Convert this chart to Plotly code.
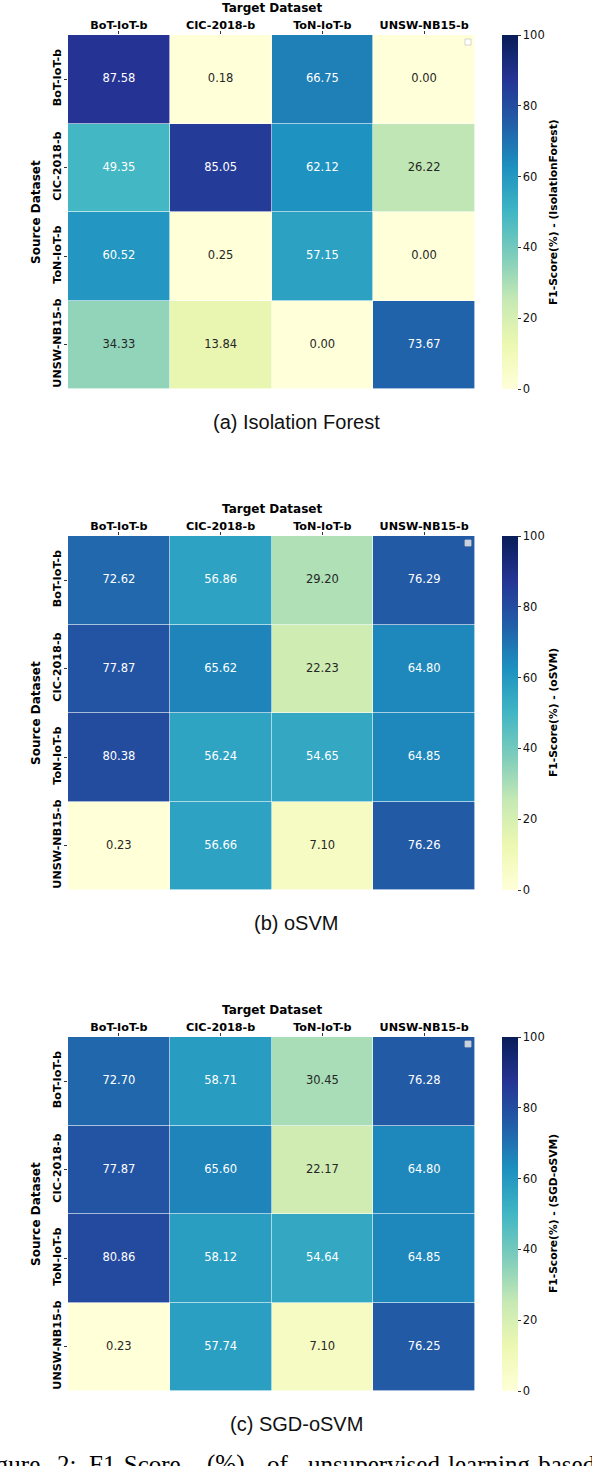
import plotly.graph_objects as go
import plotly.colors as pc

W, H = 592, 1466

targets = ["BoT-IoT-b", "CIC-2018-b", "ToN-IoT-b", "UNSW-NB15-b"]
sources = ["BoT-IoT-b", "CIC-2018-b", "ToN-IoT-b", "UNSW-NB15-b"]

if_scores = [
    [87.58, 0.18, 66.75, 0.00],
    [49.35, 85.05, 62.12, 26.22],
    [60.52, 0.25, 57.15, 0.00],
    [34.33, 13.84, 0.00, 73.67],
]
osvm_scores = [
    [72.62, 56.86, 29.20, 76.29],
    [77.87, 65.62, 22.23, 64.80],
    [80.38, 56.24, 54.65, 64.85],
    [0.23, 56.66, 7.10, 76.26],
]
sgd_scores = [
    [72.70, 58.71, 30.45, 76.28],
    [77.87, 65.60, 22.17, 64.80],
    [80.86, 58.12, 54.64, 64.85],
    [0.23, 57.74, 7.10, 76.25],
]

panels = [
    ("(a) Isolation Forest", "F1-Score(%) - (IsolationForest)", if_scores),
    ("(b) oSVM", "F1-Score(%) - (oSVM)", osvm_scores),
    ("(c) SGD-oSVM", "F1-Score(%) - (SGD-oSVM)", sgd_scores),
]

cbar_ticks = [0, 20, 40, 60, 80, 100]

# figure caption words (cut off at bottom of page in the reference)
caption_words = ["Figure", "2:", "F1-Score", "(%)", "of", "unsupervised", "learning-based"]

ylgnbu = pc.sequential.YlGnBu
n = len(ylgnbu)
colorscale = [[i / (n - 1), c] for i, c in enumerate(ylgnbu)]


def px(x):
    return x / W


def py(y):
    return 1 - y / H


FONT = "DejaVu Sans"
fig = go.Figure()
annotations = []
shapes = []

hm_left, hm_right = 68, 475
offset = 501
for i, (cap, cbtitle, z) in enumerate(panels):
    top = 35 + i * offset
    bot = top + 354
    sfx = "" if i == 0 else str(i + 1)
    xa, ya = "x" + sfx, "y" + sfx
    fig.add_trace(go.Heatmap(
        z=z, x=targets, y=sources, xaxis=xa, yaxis=ya,
        colorscale=colorscale, zmin=0, zmax=100, xgap=0.6, ygap=0.6,
        hoverinfo="skip",
        colorbar=dict(
            x=px(502), xanchor="left", y=py(top), yanchor="top",
            thicknessmode="pixels", thickness=16,
            lenmode="pixels", len=354, outlinewidth=0,
            tickvals=cbar_ticks, ticks="outside", ticklen=3, tickwidth=0.8,
            tickcolor="#333", tickfont=dict(family=FONT, size=11.5, color="#111"),
            xpad=0, ypad=0,
        ),
    ))
    xs, ys, txt, cols = [], [], [], []
    for r, src in enumerate(sources):
        for c, tgt in enumerate(targets):
            v = z[r][c]
            xs.append(tgt)
            ys.append(src)
            txt.append(f"{v:.2f}")
            cols.append("white" if v > 40 else "#262626")
    fig.add_trace(go.Scatter(
        x=xs, y=ys, xaxis=xa, yaxis=ya, mode="text", text=txt,
        textfont=dict(family=FONT, size=11.5, color=cols),
        hoverinfo="skip", showlegend=False,
    ))
    axis_common = dict(showgrid=False, zeroline=False, showline=False,
                       ticks="outside", ticklen=3.5, tickwidth=0.8, tickcolor="#333",
                       tickfont=dict(family=FONT, size=11.2, color="black", weight="bold"))
    fig.layout["xaxis" + sfx] = dict(domain=[px(hm_left), px(hm_right)], anchor=ya,
                                     side="top", range=[-0.5, 3.5], ticklabelstandoff=-3,
                                     **axis_common)
    fig.layout["yaxis" + sfx] = dict(domain=[py(bot), py(top)], anchor=xa,
                                     range=[3.5, -0.5], tickangle=-90, ticklabelstandoff=-2,
                                     **axis_common)
    mid = dict(xref="paper", yref="paper", showarrow=False, xanchor="center", yanchor="middle")
    annotations.append(dict(text="Target Dataset", x=px((hm_left + hm_right) / 2), y=py(top - 27),
                            font=dict(family=FONT, size=12, color="black", weight="bold"), **mid))
    annotations.append(dict(text="Source Dataset", x=px(36), y=py((top + bot) / 2), textangle=-90,
                            font=dict(family=FONT, size=12, color="black", weight="bold"), **mid))
    annotations.append(dict(text=cbtitle, x=px(553), y=py((top + bot) / 2), textangle=-90,
                            font=dict(family=FONT, size=10.7, color="black", weight="bold"), **mid))
    annotations.append(dict(text=cap, x=px(296), y=py(bot + 33),
                            font=dict(family="Liberation Sans", size=20, color="#111"), **mid))
    fill = "white" if i == 0 else "#c9d3e0"
    shapes.append(dict(type="rect", xref="paper", yref="paper",
                       x0=px(465), x1=px(471), y0=py(top + 10), y1=py(top + 4),
                       fillcolor=fill, line=dict(color="#cccccc", width=0.8)))

# justified caption line: word left edges (first word anchored by its right edge)
word_x = [42, 55, 87, 205, 265, 306, 446]
for k, (wd, wx) in enumerate(zip(caption_words, word_x)):
    annotations.append(dict(text=wd, x=px(wx), y=py(1464), xref="paper", yref="paper",
                            xanchor="right" if k == 0 else "left", yanchor="middle",
                            showarrow=False,
                            font=dict(family="Liberation Serif", size=25, color="black")))

fig.update_layout(
    width=W, height=H, margin=dict(l=0, r=0, t=0, b=0),
    paper_bgcolor="white", plot_bgcolor="white",
    annotations=annotations, shapes=shapes, showlegend=False,
)
fig.write_html("out.html", config={"displayModeBar": False},
               post_script="document.body.style.margin='0px';document.body.style.overflow='hidden';")
